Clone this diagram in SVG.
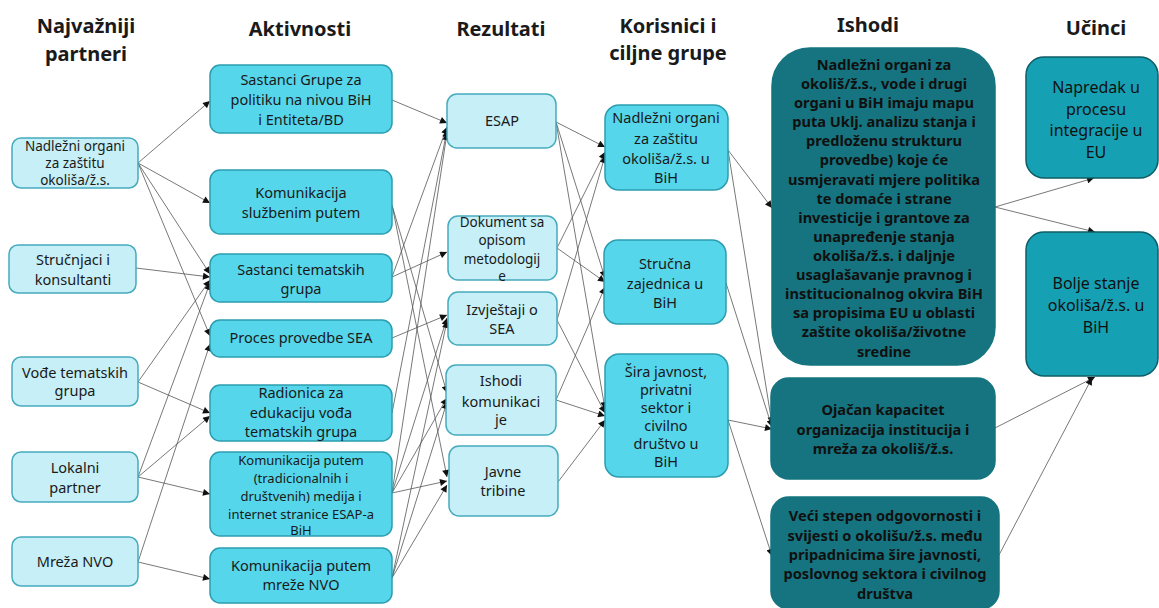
<svg xmlns="http://www.w3.org/2000/svg" width="1159" height="608" viewBox="0 0 1159 608">
  <defs>
    <marker id="ah" viewBox="0 0 10 10" refX="10" refY="5" markerWidth="8" markerHeight="7" orient="auto" markerUnits="userSpaceOnUse">
      <path d="M0,0 L10,5 L0,10 z" fill="#111"/>
    </marker>
    <style>
      text { font-family: "Noto Sans", "DejaVu Sans", sans-serif; fill: #1a1a1a; text-anchor: middle; }
      .hd { font-size: 20px; font-weight: bold; }
      .t { font-size: 14.5px; }
      .ts { font-size: 13.5px; }
      .tx { font-size: 13px; }
      .tb { font-size: 14.6px; font-weight: bold; fill: #101010; }
      .ti { font-size: 16px; fill: #101010; }
      .light { fill: #c6eff7; stroke: #45abbd; stroke-width: 1.5; }
      .cyan { fill: #55d6ea; stroke: #2c9db0; stroke-width: 1.5; }
      .dark { fill: #15747f; stroke: #15747f; stroke-width: 1.5; }
      .imp { fill: #16a0b3; stroke: #0e5d66; stroke-width: 1.5; }
      #connectors line { stroke: #555; stroke-width: 0.8; fill: none; marker-end: url(#ah); }
    </style>
  </defs>
  <rect width="1159" height="608" fill="#ffffff"/>

  <!-- column headers -->
  <g id="headers">
    <text class="hd" x="86" y="33">Najvažniji</text>
    <text class="hd" x="86" y="61">partneri</text>
    <text class="hd" x="300" y="36">Aktivnosti</text>
    <text class="hd" x="501" y="36">Rezultati</text>
    <text class="hd" x="668" y="33">Korisnici i</text>
    <text class="hd" x="668" y="60">ciljne grupe</text>
    <text class="hd" x="868" y="32">Ishodi</text>
    <text class="hd" x="1096" y="35">Učinci</text>
  </g>

  <!-- connectors -->
  <g id="connectors">
    <!-- partners to activities -->
    <line x1="138" y1="163" x2="210" y2="101"/>
    <line x1="138" y1="163" x2="210" y2="203"/>
    <line x1="138" y1="163" x2="210" y2="274"/>
    <line x1="138" y1="163" x2="210" y2="336"/>
    <line x1="136" y1="268" x2="210" y2="277"/>
    <line x1="138" y1="382" x2="210" y2="280"/>
    <line x1="138" y1="382" x2="210" y2="413"/>
    <line x1="138" y1="477" x2="210" y2="283"/>
    <line x1="138" y1="477" x2="210" y2="416"/>
    <line x1="138" y1="477" x2="210" y2="494"/>
    <line x1="138" y1="562" x2="210" y2="344"/>
    <line x1="138" y1="562" x2="210" y2="579"/>
    <!-- activities to results -->
    <line x1="392" y1="100" x2="447" y2="123"/>
    <line x1="392" y1="205" x2="447" y2="393"/>
    <line x1="392" y1="205" x2="447" y2="477"/>
    <line x1="392" y1="277" x2="447" y2="127"/>
    <line x1="392" y1="277" x2="447" y2="252"/>
    <line x1="392" y1="338" x2="447" y2="315"/>
    <line x1="392" y1="413" x2="447" y2="130"/>
    <line x1="392" y1="493" x2="447" y2="133"/>
    <line x1="392" y1="493" x2="447" y2="318"/>
    <line x1="392" y1="493" x2="447" y2="398"/>
    <line x1="392" y1="493" x2="447" y2="481"/>
    <line x1="392" y1="578" x2="447" y2="321"/>
    <line x1="392" y1="578" x2="447" y2="402"/>
    <line x1="392" y1="578" x2="447" y2="485"/>
    <!-- results to beneficiaries -->
    <line x1="556" y1="122" x2="605" y2="147"/>
    <line x1="556" y1="122" x2="605" y2="278"/>
    <line x1="556" y1="122" x2="605" y2="409"/>
    <line x1="557" y1="248" x2="605" y2="152"/>
    <line x1="557" y1="248" x2="605" y2="282"/>
    <line x1="557" y1="320" x2="605" y2="156"/>
    <line x1="557" y1="320" x2="605" y2="413"/>
    <line x1="556" y1="400" x2="605" y2="287"/>
    <line x1="556" y1="400" x2="605" y2="416"/>
    <line x1="558" y1="482" x2="605" y2="420"/>
    <!-- beneficiaries to outcomes -->
    <line x1="728" y1="150" x2="772" y2="208"/>
    <line x1="728" y1="150" x2="772" y2="424"/>
    <line x1="726" y1="283" x2="772" y2="427"/>
    <line x1="728" y1="420" x2="772" y2="429"/>
    <line x1="728" y1="420" x2="772" y2="556"/>
    <!-- outcomes to impacts -->
    <line x1="995" y1="207" x2="1094" y2="178"/>
    <line x1="995" y1="207" x2="1095" y2="232"/>
    <line x1="995" y1="428" x2="1095" y2="377"/>
    <line x1="999" y1="555" x2="1092" y2="378"/>
  </g>

  <!-- partners -->
  <g id="p1">
    <rect class="light" x="12" y="138" width="126" height="50" rx="9"/>
    <text class="ts" x="75" y="151">Nadležni organi</text>
    <text class="ts" x="75" y="168">za zaštitu</text>
    <text class="ts" x="75" y="185">okoliša/ž.s.</text>
  </g>
  <g id="p2">
    <rect class="light" x="9" y="245" width="127" height="48" rx="9"/>
    <text class="t" x="73" y="265">Stručnjaci i</text>
    <text class="t" x="73" y="285">konsultanti</text>
  </g>
  <g id="p3">
    <rect class="light" x="12" y="357" width="126" height="49" rx="9"/>
    <text class="t" x="75" y="378">Vođe tematskih</text>
    <text class="t" x="75" y="396">grupa</text>
  </g>
  <g id="p4">
    <rect class="light" x="12" y="452" width="126" height="50" rx="9"/>
    <text class="t" x="75" y="473">Lokalni</text>
    <text class="t" x="75" y="493">partner</text>
  </g>
  <g id="p5">
    <rect class="light" x="12" y="537" width="126" height="49" rx="9"/>
    <text class="t" x="75" y="567">Mreža NVO</text>
  </g>

  <!-- activities -->
  <g id="a1">
    <rect class="cyan" x="210" y="65" width="182" height="68" rx="10"/>
    <text class="t" x="301" y="85">Sastanci Grupe za</text>
    <text class="t" x="301" y="105">politiku na nivou BiH</text>
    <text class="t" x="301" y="125">i Entiteta/BD</text>
  </g>
  <g id="a2">
    <rect class="cyan" x="210" y="170" width="182" height="64" rx="10"/>
    <text class="t" x="301" y="198">Komunikacija</text>
    <text class="t" x="301" y="218">službenim putem</text>
  </g>
  <g id="a3">
    <rect class="cyan" x="210" y="254" width="182" height="48" rx="10"/>
    <text class="t" x="301" y="275">Sastanci tematskih</text>
    <text class="t" x="301" y="294">grupa</text>
  </g>
  <g id="a4">
    <rect class="cyan" x="210" y="320" width="182" height="37" rx="10"/>
    <text class="t" x="301" y="343">Proces provedbe SEA</text>
  </g>
  <g id="a5">
    <rect class="cyan" x="210" y="385" width="182" height="56" rx="10"/>
    <text class="t" x="301" y="398">Radionica za</text>
    <text class="t" x="301" y="418">edukaciju vođa</text>
    <text class="t" x="301" y="437">tematskih grupa</text>
  </g>
  <g id="a6">
    <rect class="cyan" x="210" y="452" width="182" height="84" rx="10"/>
    <text class="tx" x="301" y="465">Komunikacija putem</text>
    <text class="tx" x="301" y="483">(tradicionalnih i</text>
    <text class="tx" x="301" y="501">društvenih) medija i</text>
    <text class="tx" x="301" y="519">internet stranice ESAP-a</text>
    <text class="tx" x="301" y="535">BiH</text>
  </g>
  <g id="a7">
    <rect class="cyan" x="210" y="548" width="182" height="55" rx="10"/>
    <text class="t" x="301" y="571">Komunikacija putem</text>
    <text class="t" x="301" y="590">mreže NVO</text>
  </g>

  <!-- results -->
  <g id="r1">
    <rect class="light" x="447" y="94" width="109" height="54" rx="10"/>
    <text class="t" x="502" y="126">ESAP</text>
  </g>
  <g id="r2">
    <rect class="light" x="448" y="216" width="109" height="64" rx="10"/>
    <text class="ts" x="502" y="227">Dokument sa</text>
    <text class="ts" x="502" y="245">opisom</text>
    <text class="ts" x="502" y="264">metodologij</text>
    <text class="ts" x="502" y="281">e</text>
  </g>
  <g id="r3">
    <rect class="light" x="448" y="292" width="109" height="53" rx="10"/>
    <text class="t" x="502" y="315">Izvještaji o</text>
    <text class="t" x="502" y="334">SEA</text>
  </g>
  <g id="r4">
    <rect class="light" x="446" y="365" width="110" height="70" rx="10"/>
    <text class="t" x="501" y="386">Ishodi</text>
    <text class="t" x="501" y="407">komunikaci</text>
    <text class="t" x="501" y="425">je</text>
  </g>
  <g id="r5">
    <rect class="light" x="449" y="446" width="109" height="70" rx="10"/>
    <text class="t" x="503" y="477">Javne</text>
    <text class="t" x="503" y="496">tribine</text>
  </g>

  <!-- beneficiaries and target groups -->
  <g id="b1">
    <rect class="cyan" x="605" y="105" width="123" height="85" rx="14"/>
    <text class="t" x="666" y="123">Nadležni organi</text>
    <text class="t" x="666" y="144">za zaštitu</text>
    <text class="t" x="666" y="164">okoliša/ž.s. u</text>
    <text class="t" x="666" y="183">BiH</text>
  </g>
  <g id="b2">
    <rect class="cyan" x="604" y="240" width="122" height="84" rx="14"/>
    <text class="t" x="665" y="269">Stručna</text>
    <text class="t" x="665" y="289">zajednica u</text>
    <text class="t" x="665" y="308">BiH</text>
  </g>
  <g id="b3">
    <rect class="cyan" x="605" y="354" width="123" height="123" rx="14"/>
    <text class="t" x="666" y="377">Šira javnost,</text>
    <text class="t" x="666" y="395">privatni</text>
    <text class="t" x="666" y="413">sektor i</text>
    <text class="t" x="666" y="431">civilno</text>
    <text class="t" x="666" y="449">društvo u</text>
    <text class="t" x="666" y="467">BiH</text>
  </g>

  <!-- outcomes -->
  <g id="o1">
    <rect class="dark" x="772" y="48" width="223" height="317" rx="38"/>
    <text class="tb" x="884" y="70">Nadležni organi za</text>
    <text class="tb" x="884" y="89">okoliš/ž.s., vode i drugi</text>
    <text class="tb" x="884" y="108">organi u BiH imaju mapu</text>
    <text class="tb" x="884" y="127">puta Uklj. analizu stanja i</text>
    <text class="tb" x="884" y="146">predloženu strukturu</text>
    <text class="tb" x="884" y="165">provedbe) koje će</text>
    <text class="tb" x="884" y="185">usmjeravati mjere politika</text>
    <text class="tb" x="884" y="204">te domaće i strane</text>
    <text class="tb" x="884" y="223">investicije i grantove za</text>
    <text class="tb" x="884" y="242">unapređenje stanja</text>
    <text class="tb" x="884" y="261">okoliša/ž.s. i daljnje</text>
    <text class="tb" x="884" y="280">usaglašavanje pravnog i</text>
    <text class="tb" x="884" y="299">institucionalnog okvira BiH</text>
    <text class="tb" x="884" y="318">sa propisima EU u oblasti</text>
    <text class="tb" x="884" y="337">zaštite okoliša/životne</text>
    <text class="tb" x="884" y="357">sredine</text>
  </g>
  <g id="o2">
    <rect class="dark" x="771" y="378" width="224" height="101" rx="18"/>
    <text class="tb" x="883" y="415">Ojačan kapacitet</text>
    <text class="tb" x="883" y="435">organizacija institucija i</text>
    <text class="tb" x="883" y="454">mreža za okoliš/ž.s.</text>
  </g>
  <g id="o3">
    <rect class="dark" x="771" y="497" width="228" height="112" rx="18"/>
    <text class="tb" x="885" y="521">Veći stepen odgovornosti i</text>
    <text class="tb" x="885" y="541">svijesti o okolišu/ž.s. među</text>
    <text class="tb" x="885" y="560">pripadnicima šire javnosti,</text>
    <text class="tb" x="885" y="579">poslovnog sektora i civilnog</text>
    <text class="tb" x="885" y="599">društva</text>
  </g>

  <!-- impacts -->
  <g id="i1">
    <rect class="imp" x="1026" y="57" width="132" height="121" rx="18"/>
    <text class="ti" x="1096" y="93">Napredak u</text>
    <text class="ti" x="1096" y="115">procesu</text>
    <text class="ti" x="1096" y="136">integracije u</text>
    <text class="ti" x="1096" y="158">EU</text>
  </g>
  <g id="i2">
    <rect class="imp" x="1026" y="232" width="132" height="144" rx="18"/>
    <text class="ti" x="1096" y="289">Bolje stanje</text>
    <text class="ti" x="1096" y="311">okoliša/ž.s. u</text>
    <text class="ti" x="1096" y="333">BiH</text>
  </g>
</svg>
